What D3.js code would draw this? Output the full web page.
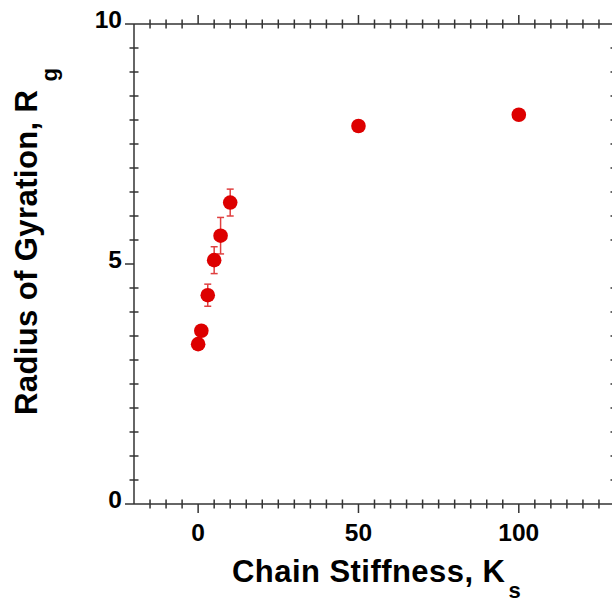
<!DOCTYPE html>
<html>
<head>
<meta charset="utf-8">
<script src="https://cdn.jsdelivr.net/npm/d3@7"></script>
<style>
  body { margin: 0; background: #fff; }
  svg { display: block; font-family: "Liberation Sans", Arial, sans-serif; }
</style>
</head>
<body>
<svg id="chart" width="612" height="604"></svg>
<script>
// Data
const stiffness = [0, 1, 3, 5, 7, 10, 50, 100];
const radius    = [3.33, 3.61, 4.35, 5.08, 5.59, 6.28, 7.875, 8.11];
const errors    = [0, 0, 0.23, 0.28, 0.38, 0.28, 0, 0];
const xMajorTicks = [0, 50, 100];
const yMajorTicks = [0, 5, 10];

(function () {
const svg = d3.select("#chart");
const pLeft = 134, pRight = 615, pTop = 24, pBottom = 504;
const x = d3.scaleLinear().domain([-20, 130]).range([pLeft, pRight]);
const y = d3.scaleLinear().domain([0, 10]).range([pBottom, pTop]);
const axisColor = "#333";

const xMinor = d3.range(-15, 131, 5).filter(v => !xMajorTicks.includes(v));
const yMinor = d3.range(0.5, 10, 0.5).filter(v => !yMajorTicks.includes(v));

// frame lines
const frame = svg.append("g").attr("stroke", axisColor).attr("stroke-width", 1.5);
frame.append("line").attr("x1", pLeft).attr("x2", pRight + 10).attr("y1", pBottom).attr("y2", pBottom);
frame.append("line").attr("x1", pLeft).attr("x2", pRight + 10).attr("y1", pTop).attr("y2", pTop);
frame.append("line").attr("x1", pLeft).attr("x2", pLeft).attr("y1", pTop).attr("y2", pBottom);
frame.append("line").attr("x1", pRight).attr("x2", pRight).attr("y1", pTop).attr("y2", pBottom);

// minor ticks (crossing)
const mt = 4.5;
[pBottom, pTop].forEach(yy => {
  frame.selectAll(null).data(xMinor).enter().append("line")
    .attr("x1", d => x(d)).attr("x2", d => x(d))
    .attr("y1", yy - mt).attr("y2", yy + mt);
});
[pLeft, pRight].forEach(xx => {
  frame.selectAll(null).data(yMinor).enter().append("line")
    .attr("y1", d => y(d)).attr("y2", d => y(d))
    .attr("x1", xx - mt).attr("x2", xx + mt);
});
// major ticks (outward)
const MT = 9;
frame.selectAll(null).data(xMajorTicks).enter().append("line")
  .attr("x1", d => x(d)).attr("x2", d => x(d)).attr("y1", pBottom).attr("y2", pBottom + MT);
frame.selectAll(null).data(xMajorTicks).enter().append("line")
  .attr("x1", d => x(d)).attr("x2", d => x(d)).attr("y1", pTop).attr("y2", pTop - MT);
frame.selectAll(null).data(yMajorTicks).enter().append("line")
  .attr("y1", d => y(d)).attr("y2", d => y(d)).attr("x1", pLeft).attr("x2", pLeft - MT);
frame.selectAll(null).data(yMajorTicks).enter().append("line")
  .attr("y1", d => y(d)).attr("y2", d => y(d)).attr("x1", pRight).attr("x2", pRight + MT);

// tick labels
svg.append("g").selectAll("text").data(xMajorTicks).enter().append("text")
  .attr("x", d => x(d)).attr("y", 541)
  .attr("text-anchor", "middle").attr("font-size", 24.5).attr("font-weight", "bold")
  .text(d => d);
svg.append("g").selectAll("text").data(yMajorTicks).enter().append("text")
  .attr("x", 122).attr("y", d => y(d) + 4)
  .attr("text-anchor", "end").attr("font-size", 24.5).attr("font-weight", "bold")
  .text(d => d);

// axis titles
const xt = svg.append("text").attr("x", 232).attr("y", 582)
  .attr("font-size", 31).attr("font-weight", "bold");
xt.append("tspan").attr("textLength", 273).attr("lengthAdjust", "spacing").text("Chain Stiffness, K");
xt.append("tspan").attr("dx", 3).attr("dy", 16).attr("font-size", 22).text("s");

const yt = svg.append("text").attr("transform", "translate(37,415) rotate(-90)")
  .attr("font-size", 31).attr("font-weight", "bold");
yt.append("tspan").attr("textLength", 325).attr("lengthAdjust", "spacing").text("Radius of Gyration, R");
yt.append("tspan").attr("dx", 8).attr("dy", 20).attr("font-size", 22).text("g");

// data
const pts = stiffness.map((s, i) => ({x: s, y: radius[i], e: errors[i]}));
const eb = svg.append("g").attr("stroke", "#e04040").attr("stroke-width", 1.5);
pts.filter(d => d.e > 0).forEach(d => {
  eb.append("line").attr("x1", x(d.x)).attr("x2", x(d.x)).attr("y1", y(d.y + d.e)).attr("y2", y(d.y - d.e));
  eb.append("line").attr("x1", x(d.x) - 3.5).attr("x2", x(d.x) + 3.5).attr("y1", y(d.y + d.e)).attr("y2", y(d.y + d.e));
  eb.append("line").attr("x1", x(d.x) - 3.5).attr("x2", x(d.x) + 3.5).attr("y1", y(d.y - d.e)).attr("y2", y(d.y - d.e));
});
svg.append("g").selectAll("circle").data(pts).enter().append("circle")
  .attr("cx", d => x(d.x)).attr("cy", d => y(d.y)).attr("r", 7.3)
  .attr("fill", "#dd0000");
})();
</script>
</body>
</html>
